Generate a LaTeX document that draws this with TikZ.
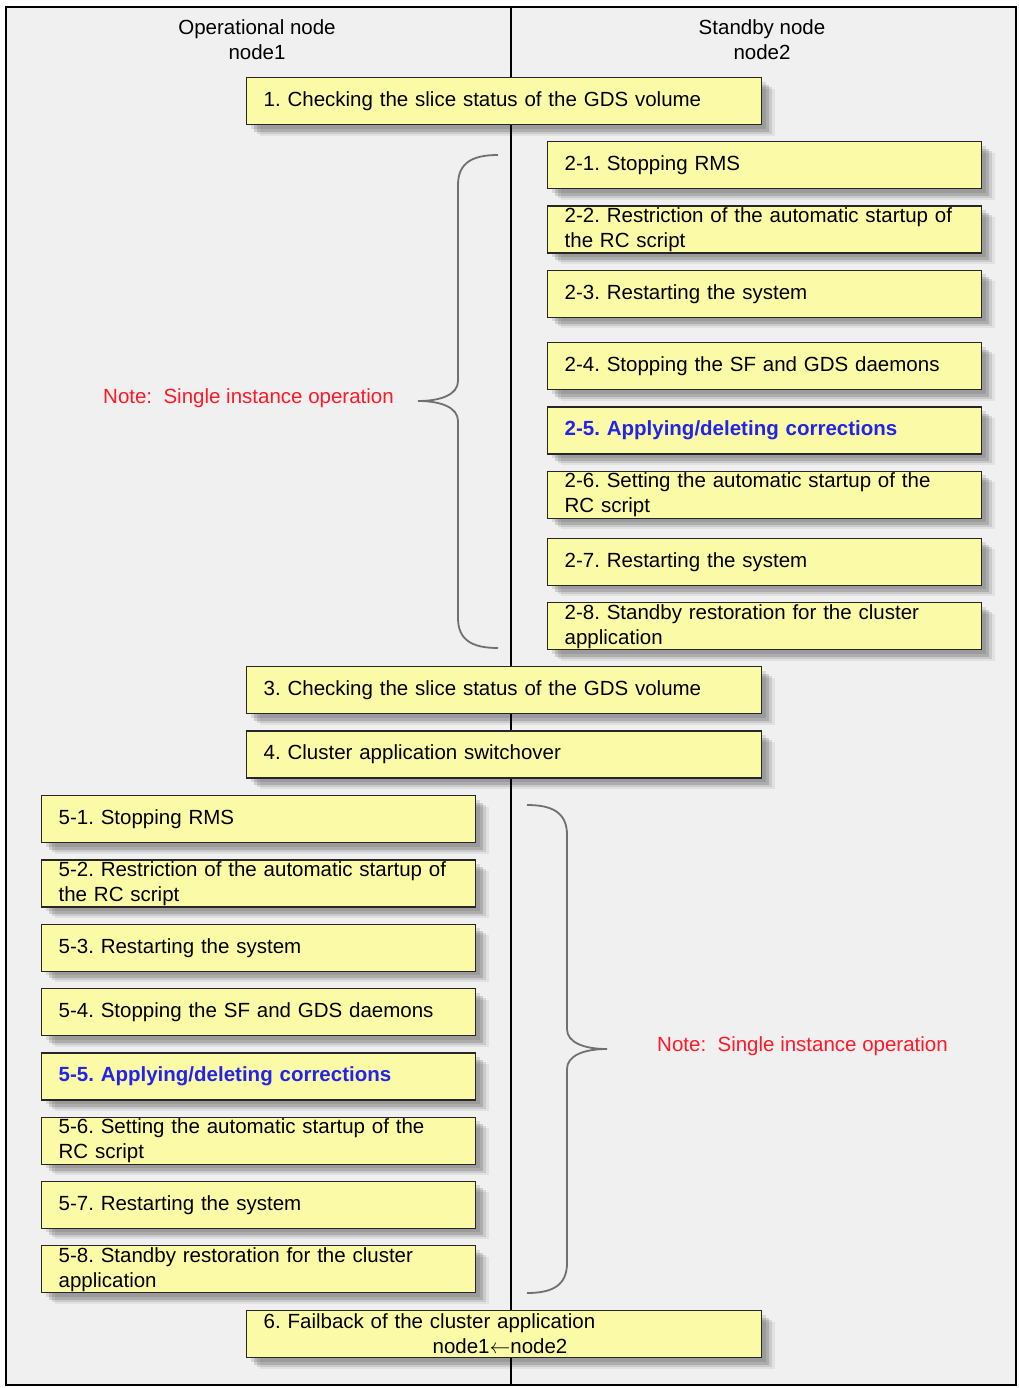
\documentclass[tikz,border=0pt]{standalone}
\usepackage{fontspec}
\setmainfont{Liberation Sans}
\usepackage{xcolor}
\usetikzlibrary{positioning}
\usetikzlibrary{shadows}
\definecolor{boxyellow}{RGB}{251,251,167}
\definecolor{panelgray}{RGB}{240,240,240}
\definecolor{notered}{RGB}{255,25,40}
\definecolor{stepblue}{RGB}{35,35,235}
\definecolor{bracegray}{RGB}{112,112,112}
\frenchspacing

\begin{document}
\begin{tikzpicture}[x=1pt, y=-1pt, node distance=16pt,
    every node/.style={font=\fontsize{20.5}{25}\selectfont},
    soft/.style={drop shadow={shadow xshift=4pt, shadow yshift=-4pt, fill=black, opacity=.10},
                 drop shadow={shadow xshift=7pt, shadow yshift=-7pt, fill=black, opacity=.14},
                 drop shadow={shadow xshift=10pt, shadow yshift=-9pt, fill=black, opacity=.10},
                 drop shadow={shadow xshift=13pt, shadow yshift=-11pt, fill=black, opacity=.06}},
    stepbox/.style={soft, draw=black!85, line width=1.3pt, fill=boxyellow, text width=400pt,
                    minimum height=47pt, inner xsep=17pt, inner ysep=0pt, align=left},
    mainbox/.style={stepbox, text width=481pt},
    bluestep/.style={stepbox, text=stepblue, font=\fontsize{20.5}{25}\selectfont\bfseries},
    note/.style={text=notered, anchor=west, inner sep=0pt},
    brace/.style={draw=bracegray, line width=1.8pt}]
  \useasboundingbox (0,0) rectangle (1018,1388);
  % frame and the two lanes
  \draw[fill=panelgray, line width=1.5pt] (6,7) rectangle (1016,1385);
  \draw[line width=1.3pt] (511,7) -- (511,1385);
  \node[align=center] (op) at (257,40) {Operational node\\node1};
  \node[align=center] (sb) at (762,40) {Standby node\\node2};

  \node[mainbox, anchor=north west] (c1) at (246,77) {1. Checking the slice status of the GDS volume};

  % standby node
  \node[stepbox, anchor=north west] (r1) at (547,141) {2-1. Stopping RMS};
  \node[stepbox, below=of r1] (r2) {2-2. Restriction of the automatic startup of\\the RC script};
  \node[stepbox, below=of r2] (r3) {2-3. Restarting the system};
  \node[stepbox, below=24pt of r3] (r4) {2-4. Stopping the SF and GDS daemons};
  \node[bluestep, below=of r4] (r5) {2-5. Applying/deleting corrections};
  \node[stepbox, below=of r5] (r6) {2-6. Setting the automatic startup of the\\RC script};
  \node[stepbox, below=19pt of r6] (r7) {2-7. Restarting the system};
  \node[stepbox, below=of r7] (r8) {2-8. Standby restoration for the cluster\\application};

  \node[mainbox, anchor=north west] (c3) at (246,666) {3. Checking the slice status of the GDS volume};
  \node[mainbox, below=of c3] (sw) {4. Cluster application switchover};

  % operational node
  \node[stepbox, anchor=north west] (o1) at (41,795) {5-1. Stopping RMS};
  \node[stepbox, below=of o1] (o2) {5-2. Restriction of the automatic startup of\\the RC script};
  \node[stepbox, below=of o2] (o3) {5-3. Restarting the system};
  \node[stepbox, below=of o3] (o4) {5-4. Stopping the SF and GDS daemons};
  \node[bluestep, below=of o4] (o5) {5-5. Applying/deleting corrections};
  \node[stepbox, below=of o5] (o6) {5-6. Setting the automatic startup of the\\RC script};
  \node[stepbox, below=of o6] (o7) {5-7. Restarting the system};
  \node[stepbox, below=of o7] (o8) {5-8. Standby restoration for the cluster\\application};

  \node[mainbox, anchor=north west] (fb) at (246,1310) {6. Failback of the cluster application\\\hspace*{169pt}node1$\leftarrow$node2};

  % braces and notes
  \draw[brace] (498,155) .. controls (472,155) and (458,163) .. (458,185) -- (458,381)
    .. controls (458,394) and (442,401) .. (418,401) .. controls (442,401) and (458,408) .. (458,421)
    -- (458,618) .. controls (458,640) and (472,648) .. (498,648);
  \node[note] (n1) at (103,398) {Note:\ \ Single instance operation};
  \draw[brace] (527,805) .. controls (553,805) and (567,813) .. (567,835) -- (567,1029)
    .. controls (567,1042) and (583,1049) .. (607,1049) .. controls (583,1049) and (567,1056) .. (567,1069)
    -- (567,1263) .. controls (567,1285) and (553,1293) .. (527,1293);
  \node[note] (n2) at (657,1046) {Note:\ \ Single instance operation};
\end{tikzpicture}
\end{document}
